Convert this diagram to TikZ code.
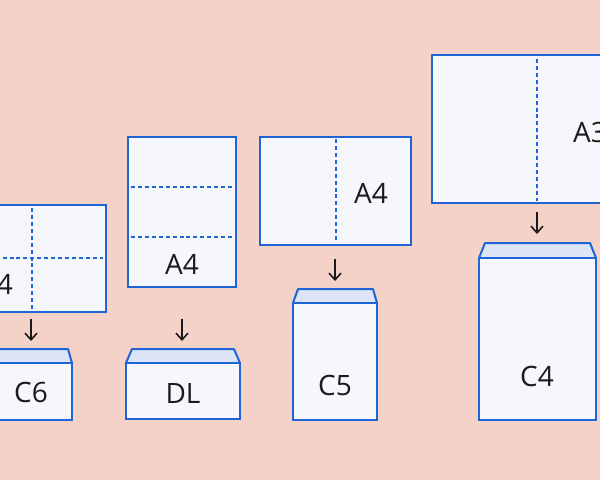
\documentclass[tikz,border=0pt]{standalone}
\usepackage{fontspec}
\setmainfont{Open Sans}
\usetikzlibrary{arrows.meta,fit}
\definecolor{bgc}{HTML}{F4D2C8}
\definecolor{paper}{HTML}{F5F7FD}
\definecolor{edge}{HTML}{1F65D6}
\definecolor{flapc}{HTML}{DCE5F8}
\definecolor{ink}{HTML}{1A1A1A}
\begin{document}
\begin{tikzpicture}[x=0.75pt,y=-0.75pt,
  sheet/.style={draw=edge,fill=paper,line width=1.5pt,inner sep=0pt},
  envbody/.style={draw=edge,fill=paper,line width=1.5pt,inner sep=0pt},
  flap/.style={draw=edge,fill=flapc,line width=1.5pt,line join=round},
  fold/.style={draw=edge,line width=1.6pt,dash pattern=on 3pt off 2.2pt},
  lbl/.style={text=ink,font=\fontsize{21}{25}\selectfont,inner sep=0pt},
  arr/.style={draw=ink,line width=1.2pt,-{Straight Barb[length=5pt,width=9pt,line width=1.2pt]}}]
\useasboundingbox (0,0) rectangle (600,480);
\clip (0,0) rectangle (600,480);
\fill[bgc] (0,0) rectangle (600,480);

% group 1: A4 -> C6
\node[sheet, fit={(-42,205) (106,312)}] (s1) {};
\draw[fold] (32,208) -- (32,309);
\draw[fold] (-39,258) -- (103,258);
\node[lbl] (l1) at (-4,284) {A4};
\coordinate (a1) at (31,319);
\coordinate (b1) at (31,341);
\draw[arr] (a1) -- (b1);
\draw[flap] (-10,363) -- (-6,349) -- (68,349) -- (72,363) -- cycle;
\node[envbody, fit={(-10,363) (72,420)}] (e1) {};
\node[lbl] (c1) at (31,392) {C6};

% group 2: A4 -> DL
\node[sheet, fit={(128,137) (236,287)}] (s2) {};
\draw[fold] (131,187) -- (233,187);
\draw[fold] (131,237) -- (233,237);
\node[lbl] (l2) at (182,264) {A4};
\coordinate (a2) at (182,319);
\coordinate (b2) at (182,341);
\draw[arr] (a2) -- (b2);
\draw[flap] (126,363) -- (132,349) -- (234,349) -- (240,363) -- cycle;
\node[envbody, fit={(126,363) (240,419)}] (e2) {};
\node[lbl] (c2) at (183,393) {DL};

% group 3: A4 -> C5
\node[sheet, fit={(260,137) (411,245)}] (s3) {};
\draw[fold] (336,139) -- (336,243);
\node[lbl] (l3) at (371,193) {A4};
\coordinate (a3) at (335,259);
\coordinate (b3) at (335,281);
\draw[arr] (a3) -- (b3);
\draw[flap] (293,303) -- (298,289) -- (373,289) -- (377,303) -- cycle;
\node[envbody, fit={(293,303) (377,420)}] (e3) {};
\node[lbl] (c3) at (335,385) {C5};

% group 4: A3 -> C4
\node[sheet, fit={(432,55) (642,203)}] (s4) {};
\draw[fold] (537,59) -- (537,201);
\node[lbl] (l4) at (590,132) {A3};
\coordinate (a4) at (537,212);
\coordinate (b4) at (537,234);
\draw[arr] (a4) -- (b4);
\draw[flap] (479,258) -- (485,243) -- (590,243) -- (596,258) -- cycle;
\node[envbody, fit={(479,258) (596,420)}] (e4) {};
\node[lbl] (c4) at (537,376) {C4};
\end{tikzpicture}
\end{document}
